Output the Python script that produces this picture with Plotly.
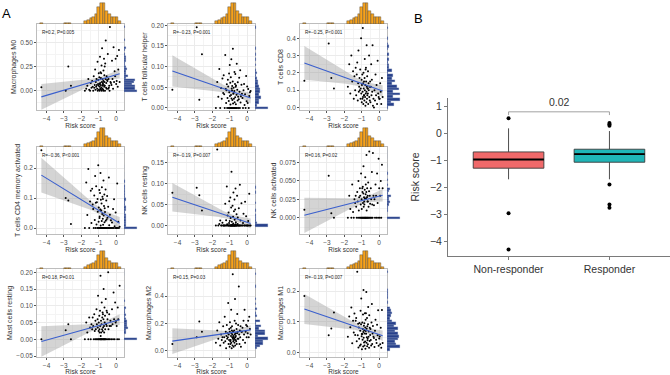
import numpy as np
import plotly.graph_objects as go

W, H = 670, 375
FONT = "Liberation Sans, Arial, sans-serif"

# ---------------- data: panel A (shared risk score per sample) ----------------
risk_score = [
    -4.30, -2.90, -2.75, -2.60,
    -1.80, -1.72, -1.66, -1.60, -1.55, -1.50, -1.46, -1.42, -1.38, -1.35,
    -1.32, -1.29, -1.26, -1.23, -1.21, -1.19, -1.17, -1.15, -1.13, -1.11,
    -1.09, -1.07, -1.06, -1.04, -1.03, -1.01, -1.00, -0.99, -0.97, -0.96,
    -0.95, -0.94, -0.93, -0.92, -0.91, -0.90, -0.89, -0.88, -0.87, -0.86,
    -0.85, -0.84, -0.83, -0.82, -0.81, -0.80, -0.79, -0.78, -0.77, -0.76,
    -0.75, -0.74, -0.73, -0.72, -0.71, -0.70, -0.69, -0.68, -0.67, -0.66,
    -0.65, -0.64, -0.63, -0.61, -0.60, -0.58, -0.57, -0.55, -0.54, -0.52,
    -0.50, -0.48, -0.46, -0.44, -0.42, -0.40, -0.38, -0.36, -0.33, -0.30,
    -0.27, -0.24, -0.21, -0.18, -0.15, -0.12, -0.09, -0.06, -0.03, 0.00,
    0.03, 0.06, 0.09, 0.12, 0.16, 0.20,
]

macrophages_m0 = [
    0.035, 0.00, 0.25, 0.05,
    0.00, 0.02, 0.05, 0.12, 0.01, 0.00, 0.08, 0.03, 0.10, 0.04,
    0.00, 0.15, 0.03, 0.06, 0.22, 0.01, 0.09, 0.04, 0.12, 0.06,
    0.02, 0.30, 0.00, 0.07, 0.11, 0.05, 0.18, 0.01, 0.14, 0.07,
    0.00, 0.04, 0.35, 0.08, 0.02, 0.19, 0.06, 0.13, 0.01, 0.18,
    0.03, 0.26, 0.00, 0.09, 0.44, 0.05, 0.02, 0.12, 0.07, 0.08,
    0.01, 0.10, 0.21, 0.00, 0.06, 0.33, 0.04, 0.16, 0.09, 0.25,
    0.05, 0.00, 0.28, 0.12, 0.52, 0.03, 0.08, 0.15, 0.02, 0.11,
    0.10, 0.38, 0.02, 0.12, 0.03, 0.05, 0.00, 0.66, 0.09, 0.08,
    0.06, 0.31, 0.12, 0.02, 0.45, 0.09, 0.20, 0.15, 0.33, 0.07,
    0.10, 0.36, 0.04, 0.22, 0.42, 0.09,
]

t_cells_follicular_helper = [
    0.044, 0.195, 0.020, 0.130,
    0.000, 0.063, 0.027, 0.094, 0.000, 0.048, 0.022, 0.071, 0.036, 0.079,
    0.033, 0.000, 0.128, 0.046, 0.012, 0.043, 0.057, 0.000, 0.024, 0.068,
    0.052, 0.000, 0.017, 0.083, 0.038, 0.000, 0.104, 0.029, 0.061, 0.008,
    0.000, 0.074, 0.031, 0.000, 0.118, 0.023, 0.047, 0.000, 0.042, 0.053,
    0.019, 0.000, 0.064, 0.143, 0.011, 0.034, 0.000, 0.049, 0.037, 0.022,
    0.000, 0.041, 0.087, 0.014, 0.000, 0.058, 0.026, 0.082, 0.000, 0.051,
    0.009, 0.054, 0.000, 0.032, 0.107, 0.000, 0.044, 0.018, 0.062, 0.027,
    0.000, 0.021, 0.073, 0.039, 0.000, 0.091, 0.013, 0.028, 0.056, 0.034,
    0.024, 0.000, 0.043, 0.058, 0.007, 0.033, 0.000, 0.077, 0.016, 0.052,
    0.012, 0.046, 0.000, 0.029, 0.038, 0.041,
]

t_cells_cd8 = [
    0.155, 0.37, 0.17, 0.11,
    0.12, 0.25, 0.08, 0.30, 0.15, 0.21, 0.05, 0.18, 0.10, 0.23,
    0.07, 0.19, 0.26, 0.04, 0.14, 0.33, 0.09, 0.12, 0.17, 0.10,
    0.22, 0.05, 0.11, 0.40, 0.08, 0.16, 0.03, 0.13, 0.19, 0.05,
    0.09, 0.46, 0.06, 0.14, 0.02, 0.20, 0.11, 0.07, 0.15, 0.07,
    0.04, 0.17, 0.28, 0.10, 0.06, 0.13, 0.01, 0.22, 0.08, 0.23,
    0.15, 0.03, 0.09, 0.36, 0.12, 0.05, 0.18, 0.07, 0.11, 0.11,
    0.08, 0.21, 0.02, 0.14, 0.10, 0.30, 0.06, 0.12, 0.04, 0.15,
    0.03, 0.12, 0.25, 0.07, 0.16, 0.09, 0.36, 0.01, 0.05, 0.00,
    0.10, 0.04, 0.19, 0.07, 0.13, 0.02, 0.27, 0.08, 0.06, 0.05,
    0.05, 0.14, 0.09, 0.02, 0.17, 0.06,
]

t_cells_cd4_memory_activated = [
    0.259, 0.100, 0.092, 0.013,
    0.000, 0.152, 0.043, 0.197, 0.000, 0.088, 0.124, 0.017, 0.131, 0.078,
    0.063, 0.000, 0.108, 0.027, 0.173, 0.000, 0.084, 0.139, 0.012, 0.086,
    0.000, 0.097, 0.054, 0.000, 0.209, 0.021, 0.068, 0.000, 0.127, 0.033,
    0.038, 0.000, 0.117, 0.000, 0.062, 0.183, 0.008, 0.094, 0.000, 0.058,
    0.000, 0.082, 0.023, 0.136, 0.000, 0.047, 0.104, 0.000, 0.031, 0.097,
    0.011, 0.000, 0.158, 0.042, 0.000, 0.073, 0.000, 0.112, 0.019, 0.066,
    0.000, 0.053, 0.000, 0.128, 0.024, 0.000, 0.092, 0.028, 0.000, 0.107,
    0.034, 0.000, 0.071, 0.000, 0.168, 0.009, 0.000, 0.044, 0.000, 0.026,
    0.000, 0.018, 0.000, 0.063, 0.000, 0.096, 0.006, 0.000, 0.052, 0.000,
    0.000, 0.148, 0.000, 0.021, 0.000, 0.004,
]

nk_cells_resting = [
    0.078, 0.090, 0.072, 0.036,
    0.000, 0.181, 0.000, 0.004, 0.012, 0.000, 0.000, 0.007, 0.000, 0.000,
    0.000, 0.000, 0.052, 0.000, 0.013, 0.000, 0.093, 0.003, 0.024, 0.000,
    0.000, 0.031, 0.000, 0.006, 0.058, 0.000, 0.011, 0.000, 0.067, 0.000,
    0.018, 0.000, 0.000, 0.043, 0.000, 0.128, 0.000, 0.009, 0.000, 0.002,
    0.000, 0.047, 0.000, 0.000, 0.021, 0.005, 0.079, 0.000, 0.000, 0.034,
    0.000, 0.000, 0.062, 0.014, 0.000, 0.000, 0.038, 0.000, 0.088, 0.003,
    0.008, 0.000, 0.000, 0.027, 0.000, 0.071, 0.000, 0.004, 0.019, 0.000,
    0.000, 0.041, 0.000, 0.000, 0.097, 0.000, 0.012, 0.000, 0.053, 0.000,
    0.000, 0.006, 0.028, 0.000, 0.000, 0.057, 0.000, 0.022, 0.000, 0.000,
    0.000, 0.011, 0.000, 0.076, 0.000, 0.000,
]

nk_cells_activated = [
    0.011, 0.057, 0.006, 0.000,
    0.000, 0.030, 0.012, 0.000, 0.045, 0.008, 0.000, 0.025, 0.020, 0.030,
    0.015, 0.000, 0.035, 0.022, 0.000, 0.050, 0.010, 0.028, 0.000, 0.040,
    0.030, 0.000, 0.018, 0.060, 0.000, 0.025, 0.012, 0.000, 0.040, 0.035,
    0.000, 0.042, 0.020, 0.000, 0.033, 0.070, 0.015, 0.000, 0.028, 0.022,
    0.018, 0.000, 0.038, 0.026, 0.000, 0.055, 0.000, 0.032, 0.045, 0.026,
    0.000, 0.035, 0.085, 0.010, 0.000, 0.028, 0.040, 0.000, 0.022, 0.030,
    0.022, 0.000, 0.048, 0.015, 0.000, 0.036, 0.090, 0.000, 0.030, 0.019,
    0.000, 0.040, 0.025, 0.000, 0.062, 0.018, 0.000, 0.088, 0.030, 0.017,
    0.025, 0.000, 0.045, 0.030, 0.000, 0.060, 0.020, 0.000, 0.080, 0.040,
    0.000, 0.030, 0.050, 0.000, 0.072, 0.040,
]

mast_cells_resting = [
    0.000, 0.027, 0.045, 0.000,
    0.000, 0.050, 0.020, 0.000, 0.065, 0.035, 0.000, 0.045, 0.030, 0.065,
    0.040, 0.000, 0.075, 0.025, 0.000, 0.055, 0.030, 0.000, 0.090, 0.045,
    0.000, 0.060, 0.035, 0.130, 0.000, 0.025, 0.050, 0.000, 0.070, 0.030,
    0.020, 0.000, 0.085, 0.040, 0.000, 0.190, 0.010, 0.000, 0.055, 0.020,
    0.000, 0.045, 0.110, 0.000, 0.030, 0.065, 0.000, 0.080, 0.025, 0.075,
    0.035, 0.000, 0.060, 0.150, 0.000, 0.040, 0.020, 0.000, 0.095, 0.050,
    0.000, 0.070, 0.030, 0.000, 0.120, 0.045, 0.000, 0.085, 0.040, 0.080,
    0.060, 0.000, 0.200, 0.030, 0.000, 0.075, 0.040, 0.000, 0.055, 0.040,
    0.000, 0.090, 0.045, 0.000, 0.140, 0.060, 0.000, 0.110, 0.050, 0.055,
    0.040, 0.000, 0.095, 0.060, 0.000, 0.160,
]

macrophages_m2 = [
    0.05, 0.10, 0.215, 0.14,
    0.06, 0.15, 0.09, 0.21, 0.04, 0.12, 0.08, 0.10, 0.18, 0.06,
    0.10, 0.25, 0.07, 0.14, 0.02, 0.11, 0.19, 0.09, 0.13, 0.10,
    0.35, 0.05, 0.12, 0.08, 0.16, 0.03, 0.14, 0.21, 0.07, 0.05,
    0.08, 0.17, 0.11, 0.30, 0.06, 0.13, 0.02, 0.15, 0.18, 0.10,
    0.12, 0.04, 0.56, 0.09, 0.14, 0.07, 0.11, 0.03, 0.10, 0.08,
    0.15, 0.09, 0.06, 0.22, 0.12, 0.38, 0.04, 0.10, 0.13, 0.08,
    0.11, 0.20, 0.07, 0.16, 0.05, 0.13, 0.27, 0.09, 0.14, 0.19,
    0.09, 0.47, 0.12, 0.05, 0.15, 0.10, 0.18, 0.03, 0.14, 0.14,
    0.17, 0.08, 0.22, 0.12, 0.30, 0.06, 0.14, 0.19, 0.10, 0.18,
    0.13, 0.22, 0.10, 0.25, 0.16, 0.12,
]

macrophages_m1 = [
    0.184, 0.057, 0.079, 0.131,
    0.052, 0.118, 0.083, 0.147, 0.031, 0.104, 0.066, 0.127, 0.058, 0.104,
    0.113, 0.038, 0.262, 0.057, 0.094, 0.018, 0.082, 0.046, 0.097, 0.023,
    0.072, 0.136, 0.027, 0.093, 0.176, 0.054, 0.061, 0.012, 0.098, 0.061,
    0.043, 0.077, 0.124, 0.021, 0.068, 0.203, 0.049, 0.088, 0.034, 0.073,
    0.096, 0.024, 0.063, 0.128, 0.037, 0.082, 0.014, 0.107, 0.071, 0.128,
    0.062, 0.197, 0.033, 0.078, 0.051, 0.113, 0.022, 0.086, 0.041, 0.047,
    0.028, 0.093, 0.148, 0.052, 0.069, 0.017, 0.122, 0.039, 0.081, 0.058,
    0.077, 0.042, 0.024, 0.098, 0.158, 0.029, 0.063, 0.087, 0.052, 0.048,
    0.019, 0.072, 0.107, 0.043, 0.032, 0.091, 0.057, 0.138, 0.023, 0.047,
    0.053, 0.028, 0.081, 0.017, 0.139, 0.032,
]

cell_names = [
    "Macrophages M0", "T cells follicular helper", "T cells CD8",
    "T cells CD4 memory activated", "NK cells resting", "NK cells activated",
    "Mast cells resting", "Macrophages M2", "Macrophages M1",
]
cor_labels = [
    "R=0.2, P=0.005", "R=\u22120.23, P=0.001", "R=\u22120.25, P<0.001",
    "R=\u22120.36, P<0.001", "R=\u22120.19, P=0.007", "R=0.16, P=0.02",
    "R=0.18, P=0.01", "R=0.15, P=0.03", "R=\u22120.19, P=0.007",
]
cell_values = [
    macrophages_m0, t_cells_follicular_helper, t_cells_cd8,
    t_cells_cd4_memory_activated, nk_cells_resting, nk_cells_activated,
    mast_cells_resting, macrophages_m2, macrophages_m1,
]

# ---------------- data: panel B ----------------
groups = ["Non-responder", "Responder"]
box_q1 = [-1.29, -1.07]
box_median = [-0.97, -0.77]
box_q3 = [-0.69, -0.59]
box_lower = [-1.70, -1.70]
box_upper = [0.18, 0.08]
outliers_nonresponder = [0.55, -2.95, -4.29]
outliers_responder = [0.38, 0.33, 0.28, -1.89, -2.63, -2.75]
p_value_label = "0.02"

# ---------------- layout settings ----------------
x_range = [-4.55, 0.45]
y_ranges = [[-0.2, 0.69], [-0.005, 0.203], [-0.015, 0.483], [-0.02, 0.27],
            [-0.02, 0.187], [-0.022, 0.096], [-0.053, 0.21], [-0.044, 0.598],
            [-0.013, 0.271]]
y_dticks = [0.25, 0.05, 0.1, 0.1, 0.05, 0.025, 0.05, 0.2, 0.1]
y_formats = [".2f", ".2f", ".1f", ".1f", ".2f", ".3f", ".2f", ".1f", ".1f"]

cols_px = [(37, 124), (168, 255), (300, 387)]
rows_px = [(24, 110), (147, 234), (269, 357)]
top_px = [(2, 24), (127, 147), (250, 269)]
RIGHT_W = 14

ORANGE = "#F7A21B"
BLUE = "#27408B"
BORDER = "#BDBDBD"
GRID = "#EBEBEB"
GRID2 = "#F4F4F4"
TICKC = "#4D4D4D"


def aname(kind, n):
    return f"{kind}axis" + ("" if n == 1 else str(n))


def aref(kind, n):
    return kind + ("" if n == 1 else str(n))


def linfit(x, y):
    x = np.asarray(x, float)
    y = np.asarray(y, float)
    n = len(x)
    b1, b0 = np.polyfit(x, y, 1)
    xs = np.linspace(x.min(), x.max(), 80)
    yh = b0 + b1 * xs
    res = y - (b0 + b1 * x)
    s = np.sqrt(res @ res / (n - 2))
    sxx = ((x - x.mean()) ** 2).sum()
    se = s * np.sqrt(1.0 / n + (xs - x.mean()) ** 2 / sxx)
    t = 1.984
    return xs, yh, yh - t * se, yh + t * se


fig = go.Figure()
layout = dict(
    width=W, height=H, margin=dict(l=0, r=0, t=0, b=0, autoexpand=False),
    paper_bgcolor="white", plot_bgcolor="white", showlegend=False,
    font=dict(family=FONT, color=TICKC), bargap=0,
)
annotations = []
shapes = []

for k in range(9):
    r, c = divmod(k, 3)
    m, tp, rt = 3 * k + 1, 3 * k + 2, 3 * k + 3
    x0, x1 = cols_px[c]
    ytop, ybot = rows_px[r]
    ht0, ht1 = top_px[r]
    vals = cell_values[k]
    xm, ym = aref("x", m), aref("y", m)

    # band + line
    xs, yh, lo, hi = linfit(risk_score, vals)
    fig.add_trace(go.Scatter(x=xs, y=lo, mode="lines", line=dict(width=0),
                             xaxis=xm, yaxis=ym, hoverinfo="skip"))
    fig.add_trace(go.Scatter(x=xs, y=hi, mode="lines", line=dict(width=0),
                             fill="tonexty", fillcolor="rgba(153,153,153,0.42)",
                             xaxis=xm, yaxis=ym, hoverinfo="skip"))
    fig.add_trace(go.Scatter(x=risk_score, y=vals, mode="markers",
                             marker=dict(color="black", size=2.0),
                             xaxis=xm, yaxis=ym))
    fig.add_trace(go.Scatter(x=xs, y=yh, mode="lines",
                             line=dict(color="#3A5FCD", width=1.1),
                             xaxis=xm, yaxis=ym))

    # marginal histograms
    fig.add_trace(go.Histogram(x=risk_score, xbins=dict(start=-4.375, end=0.35, size=0.15),
                               marker=dict(color=ORANGE, line=dict(color="#3a3a3a", width=0.4)),
                               xaxis=aref("x", tp), yaxis=aref("y", tp)))
    vmin, vmax = min(vals), max(vals)
    bsize = (vmax - vmin) / 30.0
    fig.add_trace(go.Histogram(y=vals, ybins=dict(start=vmin - bsize / 2, end=vmax + bsize, size=bsize),
                               marker=dict(color=BLUE, line=dict(color="#9AA6C8", width=0.3)),
                               xaxis=aref("x", rt), yaxis=aref("y", rt)))

    xdom = [x0 / W, x1 / W]
    ydom = [1 - ybot / H, 1 - ytop / H]
    layout[aname("x", m)] = dict(
        domain=xdom, anchor=ym, range=x_range, dtick=1, tick0=0, automargin=False,
        showline=True, mirror=True, linecolor=BORDER, linewidth=0.8,
        showgrid=True, gridcolor=GRID, gridwidth=0.6, zeroline=False,
        minor=dict(dtick=0.5, tick0=0, showgrid=True, gridcolor=GRID2, gridwidth=0.4),
        ticks="outside", ticklen=2, tickwidth=0.6, tickcolor="#555",
        tickfont=dict(size=6.5, color=TICKC),
        title=dict(text="Risk score", font=dict(size=6.5, color="#333"), standoff=1),
    )
    layout[aname("y", m)] = dict(
        domain=ydom, anchor=xm, range=y_ranges[k], dtick=y_dticks[k], tick0=0,
        tickformat=y_formats[k], automargin=False,
        showline=True, mirror=True, linecolor=BORDER, linewidth=0.8,
        showgrid=True, gridcolor=GRID, gridwidth=0.6, zeroline=False,
        minor=dict(dtick=y_dticks[k] / 2, tick0=0, showgrid=True, gridcolor=GRID2, gridwidth=0.4),
        ticks="outside", ticklen=2, tickwidth=0.6, tickcolor="#555",
        tickfont=dict(size=6.5, color=TICKC),
        title=dict(text=cell_names[k], font=dict(size=7, color="#333"), standoff=2),
    )
    layout[aname("x", tp)] = dict(domain=xdom, anchor=aref("y", tp), range=x_range,
                                  visible=False, automargin=False)
    layout[aname("y", tp)] = dict(domain=[1 - ht1 / H, 1 - ht0 / H], anchor=aref("x", tp),
                                  visible=False, automargin=False)
    layout[aname("x", rt)] = dict(domain=[x1 / W, (x1 + RIGHT_W) / W], anchor=aref("y", rt),
                                  visible=False, automargin=False)
    layout[aname("y", rt)] = dict(domain=ydom, anchor=aref("x", rt), range=y_ranges[k],
                                  visible=False, automargin=False)

    annotations.append(dict(text=cor_labels[k], xref="paper", yref="paper",
                            x=(x0 + 2.5) / W, y=1 - (ytop + 3.5) / H,
                            xanchor="left", yanchor="top", showarrow=False,
                            font=dict(size=4.6, color="#222")))

# ---------------- panel B ----------------
NB = 28
xb, yb = aref("x", NB), aref("y", NB)
box_fill = ["#F0696A", "#1FB5B7"]
BOX_W = 0.7
for i, g in enumerate(groups):
    fig.add_trace(go.Box(
        x=[g], q1=[box_q1[i]], median=[box_median[i]], q3=[box_q3[i]],
        lowerfence=[box_lower[i]], upperfence=[box_upper[i]],
        fillcolor=box_fill[i], line=dict(color="#3A3A3A", width=0.9),
        width=BOX_W, whiskerwidth=0, boxpoints=False,
        xaxis=xb, yaxis=yb, hoverinfo="skip",
    ))
    shapes.append(dict(type="line", xref=xb, yref=yb,
                       x0=i - BOX_W / 2, x1=i + BOX_W / 2,
                       y0=box_median[i], y1=box_median[i],
                       line=dict(color="black", width=1.8)))
fig.add_trace(go.Scatter(x=[groups[0]] * len(outliers_nonresponder), y=outliers_nonresponder,
                         mode="markers", marker=dict(color="black", size=4),
                         xaxis=xb, yaxis=yb))
fig.add_trace(go.Scatter(x=[groups[1]] * len(outliers_responder), y=outliers_responder,
                         mode="markers", marker=dict(color="black", size=4),
                         xaxis=xb, yaxis=yb))

layout[aname("x", NB)] = dict(
    domain=[448 / W, 1.0], anchor=yb, range=[-0.6, 1.6], type="category",
    categoryorder="array", categoryarray=groups, automargin=False,
    showline=True, linecolor="#7A7A7A", linewidth=1, showgrid=False, zeroline=False,
    ticks="outside", ticklen=3, tickcolor="#7A7A7A",
    tickfont=dict(size=10.5, color="#333"),
)
layout[aname("y", NB)] = dict(
    domain=[1 - 256 / H, 1 - 98 / H], anchor=xb, range=[-4.53, 1.3], dtick=1, tick0=0,
    automargin=False,
    showline=True, linecolor="#7A7A7A", linewidth=1, showgrid=False, zeroline=False,
    ticks="outside", ticklen=3, tickcolor="#7A7A7A",
    tickfont=dict(size=10.5, color="#333"),
    title=dict(text="Risk score", font=dict(size=10.5, color="#333"), standoff=8),
)

bracket_y, bracket_foot = 0.79, 0.67
shapes.append(dict(type="path", xref=xb, yref=yb,
                   path=f"M 0,{bracket_foot} L 0,{bracket_y} L 1,{bracket_y} L 1,{bracket_foot}",
                   line=dict(color="#8A8A8A", width=0.8)))
layout["shapes"] = shapes
annotations.append(dict(text=p_value_label, xref=xb, yref=yb, x=0.5, y=bracket_y + 0.05,
                        xanchor="center", yanchor="bottom", showarrow=False,
                        font=dict(size=10.5, color="#333")))
annotations.append(dict(text="A", xref="paper", yref="paper", x=6 / W, y=1 - 14 / H,
                        xanchor="center", yanchor="middle", showarrow=False,
                        font=dict(size=13, color="black")))
annotations.append(dict(text="B", xref="paper", yref="paper", x=418 / W, y=1 - 18 / H,
                        xanchor="center", yanchor="middle", showarrow=False,
                        font=dict(size=13, color="black")))
layout["annotations"] = annotations

fig.update_layout(**layout)
fig.write_html(
    "out.html",
    config={"displayModeBar": False},
    post_script="document.body.style.margin='0px';document.body.style.overflow='hidden';",
)
